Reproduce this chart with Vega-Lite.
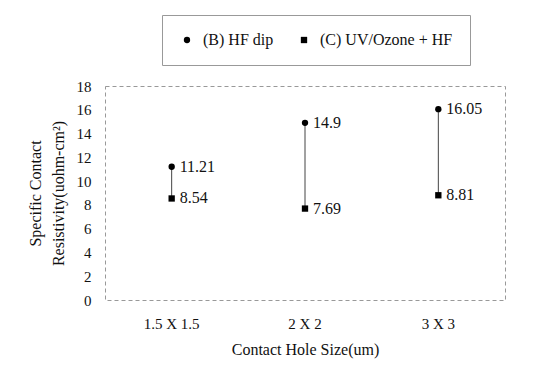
{
  "$schema": "https://vega.github.io/schema/vega-lite/v6.json",
  "width": 400,
  "height": 214,
  "autosize": {"type": "none"},
  "padding": {"left": 105, "top": 86, "right": 33, "bottom": 76},
  "background": "white",
  "config": {
    "font": "Liberation Serif",
    "view": {"stroke": "#999", "strokeDash": [4, 3], "strokeWidth": 1},
    "axis": {"labelFont": "Liberation Serif", "titleFont": "Liberation Serif", "labelOverlap": false}
  },
  "data": {
    "values": [
      {"size": "1.5 X 1.5", "method": "(B) HF dip", "value": 11.21},
      {"size": "1.5 X 1.5", "method": "(C) UV/Ozone + HF", "value": 8.54},
      {"size": "2 X 2", "method": "(B) HF dip", "value": 14.9},
      {"size": "2 X 2", "method": "(C) UV/Ozone + HF", "value": 7.69},
      {"size": "3 X 3", "method": "(B) HF dip", "value": 16.05},
      {"size": "3 X 3", "method": "(C) UV/Ozone + HF", "value": 8.81}
    ]
  },
  "encoding": {
    "x": {
      "field": "size", "type": "nominal", "sort": null,
      "axis": {
        "title": "Contact Hole Size(um)", "labelAngle": 0, "domain": false, "ticks": false,
        "labelFontSize": 15, "labelPadding": 16, "labelColor": "#111",
        "titleFontSize": 16, "titleFontWeight": "normal", "titlePadding": 10, "titleColor": "#111"
      }
    },
    "y": {
      "field": "value", "type": "quantitative",
      "scale": {"domain": [0, 18]},
      "axis": {
        "title": ["Specific Contact", "Resistivity(uohm-cm²)"],
        "values": [0, 2, 4, 6, 8, 10, 12, 14, 16, 18],
        "labelOverlap": false,
        "grid": false, "domain": false, "ticks": false,
        "labelFontSize": 15, "labelPadding": 14, "labelColor": "#111",
        "titleFontSize": 16, "titleFontWeight": "normal", "titlePadding": 10,
        "titleColor": "#111", "titleLineHeight": 23
      }
    }
  },
  "layer": [
    {
      "transform": [
        {"aggregate": [{"op": "min", "field": "value", "as": "value"}, {"op": "max", "field": "value", "as": "value_hi"}], "groupby": ["size"]}
      ],
      "mark": {"type": "rule", "color": "#444", "strokeWidth": 1},
      "encoding": {
        "y2": {"field": "value_hi"}
      }
    },
    {
      "mark": {"type": "point", "filled": true, "opacity": 1, "size": 40},
      "encoding": {
        "shape": {
          "field": "method", "type": "nominal",
          "scale": {"domain": ["(B) HF dip", "(C) UV/Ozone + HF"], "range": ["circle", "square"]},
          "legend": {
            "title": null, "orient": "none", "direction": "horizontal",
            "legendX": 57, "legendY": -71,
            "padding": 17, "strokeColor": "#999",
            "labelFont": "Liberation Serif", "labelFontSize": 16, "labelColor": "#111", "symbolSize": 40,
            "symbolFillColor": "black", "symbolStrokeColor": "black",
            "columnPadding": 22, "labelOffset": 8
          }
        },
        "color": {"value": "black"}
      }
    },
    {
      "mark": {"type": "text", "align": "left", "baseline": "middle", "dx": 8, "fontSize": 16, "font": "Liberation Serif", "color": "#111"},
      "encoding": {
        "text": {"field": "value", "type": "quantitative"}
      }
    }
  ]
}
